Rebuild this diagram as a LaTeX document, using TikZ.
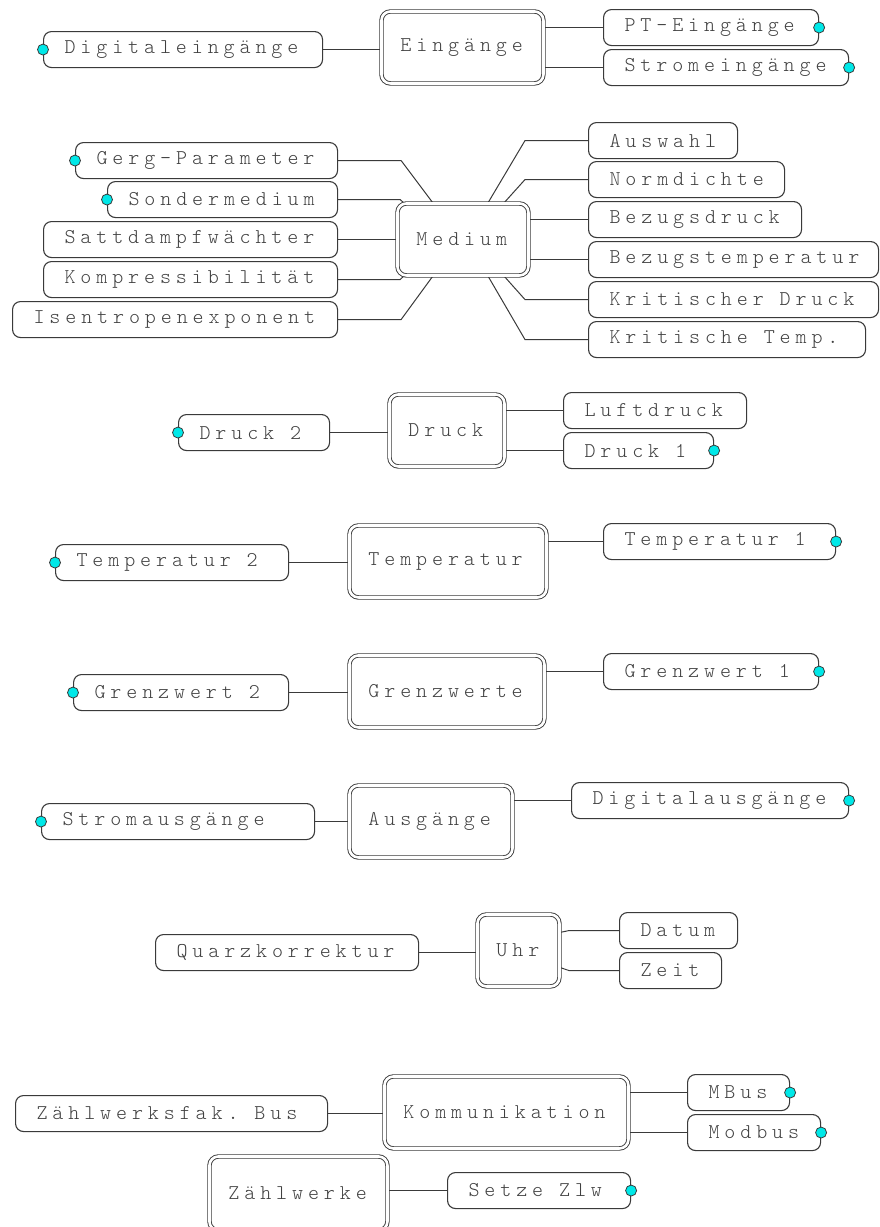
\documentclass[tikz,border=0pt]{standalone}
\usepackage{fontspec}
\newfontfamily\lbl{lmmonolt10-regular.otf}[LetterSpace=23.3]
\newcommand\wsp{\kern15.9pt\relax}
\usetikzlibrary{backgrounds}
\definecolor{linec}{HTML}{3A3A3A}
\definecolor{txtc}{HTML}{404040}
\definecolor{dotc}{HTML}{00E8E8}
\tikzset{
  leaf/.style={draw=linec, line width=1.1pt, rounded corners=8pt, fill=white,
    minimum height=36pt, inner xsep=21pt, inner ysep=0pt, text width=#1,
    align=left, anchor=north west, font=\fontsize{21}{23}\lbl, text=txtc},
  hub/.style={draw=linec, double=white, double distance=2.6pt, line width=0.9pt,
    rounded corners=9pt, fill=white, minimum height=72pt, inner xsep=19pt,
    inner ysep=0pt, text width=#1, align=left, anchor=north west,
    font=\fontsize{21}{23}\lbl, text=txtc},
  link/.style={draw=linec, line width=1pt},
  port/.style={circle, draw=linec, fill=dotc, line width=0.8pt, inner sep=0pt,
    minimum size=11pt}
}
\begin{document}
\begin{tikzpicture}[x=1pt,y=-1pt]
\useasboundingbox (0,0) rectangle (879,1227);
\clip (0,0) rectangle (879,1227);

% --- Eingänge
\node[hub=124pt] (eing) at (381,11) {Eingänge};
\node[leaf=237pt] (digin) at (43,31) {Digitaleingänge};
\node[leaf=173pt] (pt) at (603,9) {PT-Eingänge};
\node[leaf=203pt] (strom) at (603,49) {Stromeingänge};

% --- Medium
\node[hub=93pt] (med) at (397,203) {Medium};
\node[leaf=220pt] (gerg) at (75,142) {Gerg-Parameter};
\node[leaf=188pt] (sonder) at (107,181) {Sondermedium};
\node[leaf=252pt] (satt) at (43,221) {Sattdampfwächter};
\node[leaf=252pt] (kompr) at (43,261) {Kompressibilität};
\node[leaf=283pt] (isen) at (12,301) {Isentropenexponent};
\node[leaf=107pt] (ausw) at (588,122) {Auswahl};
\node[leaf=154pt] (norm) at (588,161) {Normdichte};
\node[leaf=171pt] (bdruck) at (588,201) {Bezugsdruck};
\node[leaf=248pt] (btemp) at (588,241) {Bezugstemperatur};
\node[leaf=248pt] (kdruck) at (588,281) {Kritischer\wsp Druck};
\node[leaf=235pt] (ktemp) at (588,321) {Kritische\wsp Temp.};

% --- Druck
\node[hub=77pt] (druck) at (389,394) {Druck};
\node[leaf=109pt] (druck2) at (178,414) {Druck\wsp 2};
\node[leaf=141pt] (luft) at (563,392) {Luftdruck};
\node[leaf=108pt] (druck1) at (563,432) {Druck\wsp 1};

% --- Temperatur
\node[hub=159pt] (temp) at (349,525) {Temperatur};
\node[leaf=191pt] (temp2) at (55,544) {Temperatur\wsp 2};
\node[leaf=190pt] (temp1) at (603,523) {Temperatur\wsp 1};

% --- Grenzwerte
\node[hub=157pt] (gw) at (349,655) {Grenzwerte};
\node[leaf=173pt] (gw2) at (73,674) {Grenzwert\wsp 2};
\node[leaf=173pt] (gw1) at (603,653) {Grenzwert\wsp 1};

% --- Ausgänge
\node[hub=125pt] (aus) at (349,785) {Ausgänge};
\node[leaf=231pt] (saus) at (41,803) {Stromausgänge};
\node[leaf=235pt] (daus) at (571,782) {Digitalausgänge};

% --- Uhr
\node[hub=44pt] (uhr) at (477,914) {Uhr};
\node[leaf=221pt] (quarz) at (155,934) {Quarzkorrektur};
\node[leaf=76pt] (datum) at (619,912) {Datum};
\node[leaf=60pt] (zeit) at (619,952) {Zeit};

% --- Kommunikation
\node[hub=206pt] (komm) at (384,1076) {Kommunikation};
\node[leaf=270pt] (zbus) at (15,1095) {Zählwerksfak.\wsp Bus};
\node[leaf=60pt] (mbus) at (687,1074) {MBus};
\node[leaf=91pt] (modbus) at (687,1114) {Modbus};

% --- Zählwerke
\node[hub=140pt, minimum height=74pt] (zw) at (209,1156) {Zählwerke};
\node[leaf=141pt] (setze) at (447,1172) {Setze\wsp Zlw};

% connectors behind the boxes
\begin{scope}[on background layer]
  \draw[link] (digin.east) -- (digin.east -| eing.west);
  \draw[link] (pt.west) -- (pt.west -| eing.east);
  \draw[link] (strom.west) -- (strom.west -| eing.east);

  \draw[link] (gerg.east) -- ++(63,0) -- ([xshift=36pt]med.north west);
  \draw[link] (sonder.east) -- ++(62,0) -- ([xshift=7pt]med.north west);
  \draw[link] (satt.east) -- (satt.east -| med.west);
  \draw[link] (kompr.east) -- ++(62,0) -- ([xshift=7pt]med.south west);
  \draw[link] (isen.east) -- ++(63,0) -- ([xshift=36pt]med.south west);
  \draw[link] (ausw.west) -- ++(-63,0) -- ([xshift=-41pt]med.north east);
  \draw[link] (norm.west) -- ++(-63,0) -- ([xshift=-25pt]med.north east);
  \draw[link] (bdruck.west) -- (bdruck.west -| med.east);
  \draw[link] (btemp.west) -- (btemp.west -| med.east);
  \draw[link] (kdruck.west) -- ++(-63,0) -- ([xshift=-25pt]med.south east);
  \draw[link] (ktemp.west) -- ++(-63,0) -- ([xshift=-41pt]med.south east);

  \draw[link] (druck2.east) -- (druck2.east -| druck.west);
  \draw[link] (luft.west) -- (luft.west -| druck.east);
  \draw[link] (druck1.west) -- (druck1.west -| druck.east);

  \draw[link] (temp2.east) -- (temp2.east -| temp.west);
  \draw[link] (temp1.west) -- (temp1.west -| temp.east);

  \draw[link] (gw2.east) -- (gw2.east -| gw.west);
  \draw[link] (gw1.west) -- (gw1.west -| gw.east);

  \draw[link] (saus.east) -- (saus.east -| aus.west);
  \draw[link] (daus.west) -- (daus.west -| aus.east);

  \draw[link] (quarz.east) -- (quarz.east -| uhr.west);
  \draw[link] (datum.west) -- ++(-50,0) -- ([yshift=18pt]uhr.east);
  \draw[link] (zeit.west) -- ++(-50,0) -- ([yshift=-17pt]uhr.east);

  \draw[link] (zbus.east) -- (zbus.east -| komm.west);
  \draw[link] (mbus.west) -- (mbus.west -| komm.east);
  \draw[link] (modbus.west) -- (modbus.west -| komm.east);

  \draw[link] (setze.west) -- (setze.west -| zw.east);
\end{scope}

% connection ports
\foreach \n/\a in {digin/west, pt/east, strom/east, gerg/west, sonder/west,
  druck2/west, druck1/east, temp2/west, temp1/east, gw2/west, gw1/east,
  saus/west, daus/east, mbus/east, modbus/east, setze/east}
  \node[port] (p-\n) at (\n.\a) {};
\end{tikzpicture}
\end{document}
